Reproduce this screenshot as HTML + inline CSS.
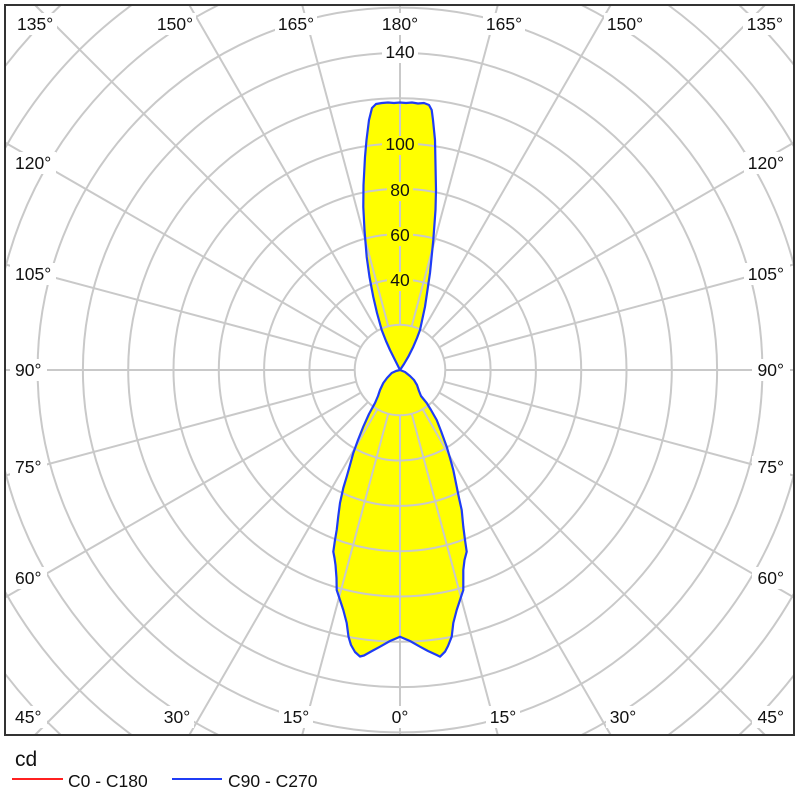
<!DOCTYPE html>
<html>
<head>
<meta charset="utf-8">
<style>
  html,body{margin:0;padding:0;background:#fff;width:800px;height:800px;overflow:hidden;}
  svg{display:block;}
  text{font-family:"Liberation Sans","DejaVu Sans",sans-serif;fill:#111;}
</style>
</head>
<body>
<svg width="800" height="800" viewBox="0 0 800 800" xmlns="http://www.w3.org/2000/svg" xmlns:xlink="http://www.w3.org/1999/xlink">
  <defs>
    <path id="lobe" d="M400,370 L404,364 408.3,356.7 413.3,346.7 417,338 420,330 425,306.7 430,273 433.3,240 435.5,210 436,190 435.5,165 435,140 433,120 431.7,110 429,105 424,103 418,103.5 412,102.5 406,103 400,102.5 394,103 388,102.5 382,103 376,104 372,108 369,120 366.5,140 365,157 363.5,185 363.3,207 364.5,230 366.7,257 369.5,277 373.3,297 377,313 381.7,330 386,341 390,350 393,356 395,360 398,366 Z
    M400,370 L405,372 410,376 414,380 417,385 419,391 421,396 426.7,403 431,410 436.7,420 441,431 446.7,446.7 450,458 453.3,470 456.7,486.7 459,498 461.7,510 463.3,526.7 465,540 466.7,551.7 464.5,560 463.3,570 463.3,590 460,600 456.7,610 453.3,623 451.7,636.7 448,646 445,651.7 440,656.7 436.7,655 428,651 420,646.7 410,641 400,636.7 390,641 380,646.7 372,651 364,655.5 360,656.5 355,652 351,645 348.5,636.7 346.7,623 343.3,610 340,600 336.7,590 336.5,578 335.5,565 334.5,558 333.3,551.7 335,540 336.7,530 338.3,516 340,503 343.3,488 346.7,476.7 350,465 353.3,453 358,440 363.3,426.7 369,414 375,403 378,396 380,390 383.3,383 387,378 391.7,373 396,371 Z"/>
  </defs>
  <rect x="0" y="0" width="800" height="800" fill="#fff"/>

  <!-- yellow fill -->
  <use href="#lobe" xlink:href="#lobe" fill="#ffff00" stroke="none"/>

  <!-- grid -->
  <g stroke="#c9c9c9" stroke-width="2" fill="none">
    <circle cx="400" cy="370" r="45.3"/>
    <circle cx="400" cy="370" r="90.6"/>
    <circle cx="400" cy="370" r="135.9"/>
    <circle cx="400" cy="370" r="181.2"/>
    <circle cx="400" cy="370" r="226.5"/>
    <circle cx="400" cy="370" r="271.8"/>
    <circle cx="400" cy="370" r="317.1"/>
    <circle cx="400" cy="370" r="362.4"/>
    <!-- ring 9 r=407.7 -->
    <path d="M581.6,5 A407.7,407.7 0 0 1 794,265.2 M794,474.8 A407.7,407.7 0 0 1 581.6,735 M218.4,735 A407.7,407.7 0 0 1 5,471 M5,269 A407.7,407.7 0 0 1 218.4,5"/>
    <!-- ring 10 r=453 -->
    <path d="M668.3,5 A453,453 0 0 1 794,146.5 M794,593.5 A453,453 0 0 1 668.3,735 M131.7,735 A453,453 0 0 1 5,591.8 M5,148.2 A453,453 0 0 1 131.7,5"/>
    <!-- ring 11 r=498.3 -->
    <path d="M739.2,5 A498.3,498.3 0 0 1 794,64.9 M794,675.1 A498.3,498.3 0 0 1 739.2,735 M60.8,735 A498.3,498.3 0 0 1 5,673.8 M5,66.2 A498.3,498.3 0 0 1 60.8,5"/>
    <!-- spokes -->
    <line x1="400" y1="415.3" x2="400" y2="735"/>
    <line x1="411.72" y1="413.76" x2="497.8" y2="735"/>
    <line x1="422.65" y1="409.23" x2="610.7" y2="735"/>
    <line x1="432.03" y1="402.03" x2="765" y2="735"/>
    <line x1="439.23" y1="392.65" x2="794" y2="597.5"/>
    <line x1="443.76" y1="381.72" x2="794" y2="475.6"/>
    <line x1="445.3" y1="370" x2="794" y2="370"/>
    <line x1="443.76" y1="358.28" x2="794" y2="264.4"/>
    <line x1="439.23" y1="347.35" x2="794" y2="142.5"/>
    <line x1="432.03" y1="337.97" x2="765" y2="5"/>
    <line x1="422.65" y1="330.77" x2="610.7" y2="5"/>
    <line x1="411.72" y1="326.24" x2="497.8" y2="5"/>
    <line x1="400" y1="324.7" x2="400" y2="5"/>
    <line x1="388.28" y1="326.24" x2="302.2" y2="5"/>
    <line x1="377.35" y1="330.77" x2="189.3" y2="5"/>
    <line x1="367.97" y1="337.97" x2="35" y2="5"/>
    <line x1="360.77" y1="347.35" x2="5" y2="142.5"/>
    <line x1="356.24" y1="358.28" x2="5" y2="264.4"/>
    <line x1="354.7" y1="370" x2="5" y2="370"/>
    <line x1="356.24" y1="381.72" x2="5" y2="475.6"/>
    <line x1="360.77" y1="392.65" x2="5" y2="597.5"/>
    <line x1="367.97" y1="402.03" x2="35" y2="735"/>
    <line x1="377.35" y1="409.23" x2="189.3" y2="735"/>
    <line x1="388.28" y1="413.76" x2="302.2" y2="735"/>
  </g>

  <!-- label backgrounds -->
  <g fill="#fff">
    <rect x="13" y="13" width="44" height="22"/>
    <rect x="154" y="13" width="42" height="22"/>
    <rect x="275" y="13" width="42" height="22"/>
    <rect x="379" y="13" width="42" height="22"/>
    <rect x="483" y="13" width="42" height="22"/>
    <rect x="604" y="13" width="42" height="22"/>
    <rect x="743" y="13" width="44" height="22"/>
    <rect x="10" y="152" width="46" height="22"/>
    <rect x="10" y="263" width="46" height="22"/>
    <rect x="10" y="359" width="37" height="22"/>
    <rect x="10" y="456" width="37" height="22"/>
    <rect x="10" y="567" width="37" height="22"/>
    <rect x="10" y="706" width="37" height="22"/>
    <rect x="744" y="152" width="46" height="22"/>
    <rect x="744" y="263" width="46" height="22"/>
    <rect x="752" y="359" width="38" height="22"/>
    <rect x="752" y="456" width="38" height="22"/>
    <rect x="752" y="567" width="38" height="22"/>
    <rect x="752" y="706" width="38" height="22"/>
    <rect x="160" y="706" width="34" height="22"/>
    <rect x="279" y="706" width="34" height="22"/>
    <rect x="389" y="706" width="22" height="22"/>
    <rect x="486" y="706" width="34" height="22"/>
    <rect x="606" y="706" width="34" height="22"/>
    <rect x="382" y="43" width="36" height="20"/>
  </g>
  <g fill="#ffff00">
    <rect x="382" y="136" width="36" height="19"/>
    <rect x="387" y="182" width="26" height="19"/>
    <rect x="387" y="227" width="26" height="19"/>
    <rect x="387" y="272" width="26" height="19"/>
  </g>

  <!-- blue curve outline -->
  <use href="#lobe" xlink:href="#lobe" fill="none" stroke="#1f3cf5" stroke-width="2.2" stroke-linejoin="round"/>

  <!-- frame -->
  <rect x="5" y="5" width="789" height="730" fill="none" stroke="#333" stroke-width="2"/>

  <!-- angle labels -->
  <g font-size="17.5">
    <text x="17" y="30">135°</text>
    <text x="175" y="30" text-anchor="middle">150°</text>
    <text x="296" y="30" text-anchor="middle">165°</text>
    <text x="400" y="30" text-anchor="middle">180°</text>
    <text x="504" y="30" text-anchor="middle">165°</text>
    <text x="625" y="30" text-anchor="middle">150°</text>
    <text x="783" y="30" text-anchor="end">135°</text>

    <text x="15" y="169">120°</text>
    <text x="15" y="280">105°</text>
    <text x="15" y="376">90°</text>
    <text x="15" y="473">75°</text>
    <text x="15" y="584">60°</text>
    <text x="15" y="723">45°</text>

    <text x="784" y="169" text-anchor="end">120°</text>
    <text x="784" y="280" text-anchor="end">105°</text>
    <text x="784" y="376" text-anchor="end">90°</text>
    <text x="784" y="473" text-anchor="end">75°</text>
    <text x="784" y="584" text-anchor="end">60°</text>
    <text x="784" y="723" text-anchor="end">45°</text>

    <text x="177" y="723" text-anchor="middle">30°</text>
    <text x="296" y="723" text-anchor="middle">15°</text>
    <text x="400" y="723" text-anchor="middle">0°</text>
    <text x="503" y="723" text-anchor="middle">15°</text>
    <text x="623" y="723" text-anchor="middle">30°</text>
  </g>

  <!-- value labels -->
  <g font-size="17.5" text-anchor="middle">
    <text x="400" y="58">140</text>
    <text x="400" y="150">100</text>
    <text x="400" y="196">80</text>
    <text x="400" y="241">60</text>
    <text x="400" y="286">40</text>
  </g>

  <!-- legend -->
  <text x="15" y="766" font-size="21">cd</text>
  <line x1="12" y1="779" x2="63" y2="779" stroke="#ff2020" stroke-width="2"/>
  <text x="68" y="787" font-size="17.5">C0 - C180</text>
  <line x1="172" y1="779" x2="222" y2="779" stroke="#1f3cf5" stroke-width="2"/>
  <text x="228" y="787" font-size="17.5">C90 - C270</text>
</svg>
</body>
</html>
